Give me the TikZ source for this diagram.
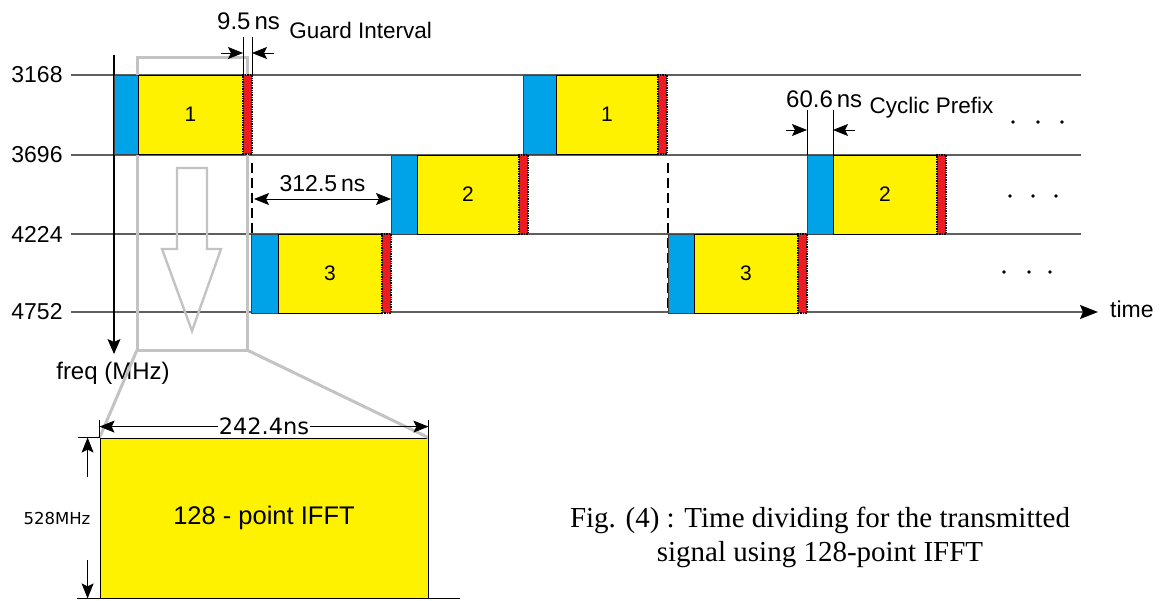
\documentclass[tikz,border=0pt]{standalone}
\usepackage{fontspec}
\setmainfont{Liberation Serif}
\setsansfont{Liberation Sans}
\newfontfamily\dejavu{DejaVu Sans}
\usetikzlibrary{arrows.meta,positioning}
\definecolor{cpblue}{RGB}{0,162,232}
\definecolor{symyellow}{RGB}{255,242,0}
\definecolor{gired}{RGB}{237,28,36}
\definecolor{gridgray}{RGB}{95,95,95}
\definecolor{framegray}{RGB}{195,195,195}
\begin{document}
\begin{tikzpicture}[x=1pt,y=-1pt,
    cpbox/.style={draw=black!75, line width=0.7pt, fill=cpblue, minimum width=#1,
      minimum height=79pt, inner sep=0pt, outer sep=0pt, anchor=north west},
    databox/.style={draw=black, line width=0.7pt, fill=symyellow, minimum width=#1,
      minimum height=79pt, inner sep=0pt, outer sep=0pt, anchor=north west,
      font=\sffamily\fontsize{21}{21}\selectfont},
    guardbox/.style={draw=black, densely dotted, line width=1.4pt, fill=gired,
      minimum width=9pt, minimum height=79pt, inner sep=0pt, outer sep=0pt,
      anchor=north west},
    gridline/.style={draw=gridgray, line width=1.1pt},
    dimarr/.style={line width=0.8pt, -{Stealth[length=15pt,width=12pt,inset=3pt]}},
    biarr/.style={line width=0.8pt, {Stealth[length=15pt,width=12pt,inset=3pt]}-{Stealth[length=15pt,width=12pt,inset=3pt]}},
    lbl/.style={font=\sffamily\fontsize{23}{23}\selectfont, inner sep=0pt},
    bigval/.style={font=\sffamily\fontsize{24}{24}\selectfont, inner sep=0pt},
    note/.style={font=\sffamily\fontsize{22.5}{22.5}\selectfont, inner sep=0pt},
    zoomline/.style={draw=framegray, line width=3pt}]
    \useasboundingbox (0,0) rectangle (1161,601);

    % Frequency bands
    \node[lbl] (f1) at (37,75) {3168};
    \node[lbl] (f2) at (37,155) {3696};
    \node[lbl] (f3) at (37,234) {4224};
    \node[lbl] (f4) at (37,312) {4752};
    \draw[gridline] (71,75) -- (1081,75);
    \draw[gridline] (71,155) -- (1081,155);
    \draw[gridline] (71,234) -- (1081,234);

    % Axes
    \node[lbl, anchor=west] (timelbl) at (1110,309) {time};
    \node[bigval] (freqlbl) at (113,373) {freq (MHz)};
    \draw[gridline, -{Stealth[length=18pt,width=14pt,inset=3pt,color=black]}] (71,312) -- (1098,312);
    \draw[line width=1.1pt, -{Stealth[length=15pt,width=13pt,inset=3pt]}] (114,55) -- (114,354);

    % Zoomed part of the first symbol
    \draw[zoomline] (137,58) rectangle (247,350);
    \draw[draw=framegray, line width=2.4pt] (177,168) -- (207,168) -- (207,249) -- (221,249)
      -- (192,331) -- (162,249) -- (177,249) -- cycle;

    % Dashed time marks
    \draw[line width=2.2pt, dash pattern=on 10pt off 5pt] (252,163) -- (252,312);
    \draw[line width=2.2pt, dash pattern=on 10pt off 5pt] (668,163) -- (668,312);

    % Band 1
    \node[cpbox=24pt] (c1a) at (114,75) {};
    \node[databox=105pt] (d1a) at (138,75) {1};
    \node[guardbox] (g1a) at (243,75) {};
    \node[cpbox=33pt] (c1b) at (523,75) {};
    \node[databox=102pt] (d1b) at (556,75) {1};
    \node[guardbox] (g1b) at (658,75) {};

    % Band 2
    \node[cpbox=26pt] (c2a) at (391,155) {};
    \node[databox=102pt] (d2a) at (417,155) {2};
    \node[guardbox] (g2a) at (519,155) {};
    \node[cpbox=26pt] (c2b) at (807,155) {};
    \node[databox=104pt] (d2b) at (833,155) {2};
    \node[guardbox] (g2b) at (937,155) {};

    % Band 3
    \node[cpbox=27pt] (c3a) at (251,234) {};
    \node[databox=104pt] (d3a) at (278,234) {3};
    \node[guardbox] (g3a) at (382,234) {};
    \node[cpbox=26pt] (c3b) at (668,234) {};
    \node[databox=104pt] (d3b) at (694,234) {3};
    \node[guardbox] (g3b) at (798,234) {};

    % Guard interval
    \draw[line width=0.8pt] (g1a.north west) -- ++(0,-38);
    \draw[line width=0.8pt] (g1a.north east) -- ++(0,-38);
    \draw[dimarr] ([xshift=-22pt,yshift=22pt]g1a.north west) -- ([yshift=22pt]g1a.north west);
    \draw[dimarr] ([xshift=22pt,yshift=22pt]g1a.north east) -- ([yshift=22pt]g1a.north east);
    \node[bigval, anchor=base west] (gival) at (217,30) {9.5\,ns};
    \node[note, anchor=base west, right=9pt of gival.base east] (gilbl) {Guard Interval};

    % Symbol period
    \draw[biarr] (254,199) -- ([yshift=-44pt]c2a.north west)
      node[midway, above=7pt, lbl] {312.5\,ns};

    % Cyclic prefix
    \draw[line width=0.8pt] (c2b.north west) -- ++(0,-45);
    \draw[line width=0.8pt] (c2b.north east) -- ++(0,-45);
    \draw[dimarr] ([xshift=-21pt,yshift=25pt]c2b.north west) -- ([yshift=25pt]c2b.north west);
    \draw[dimarr] ([xshift=22pt,yshift=25pt]c2b.north east) -- ([yshift=25pt]c2b.north east);
    \node[bigval, anchor=base west] (cpval) at (786,108) {60.6\,ns};
    \node[note, anchor=base west, right=7pt of cpval.base east] (cplbl) {Cyclic Prefix};

    % More symbols follow
    \fill (1013,122) circle (1.9);
    \fill (1038,122) circle (1.9);
    \fill (1062,122) circle (1.9);
    \fill (1010,196) circle (1.9);
    \fill (1033,196) circle (1.9);
    \fill (1056,196) circle (1.9);
    \fill (1004,272) circle (1.9);
    \fill (1029,272) circle (1.9);
    \fill (1050,272) circle (1.9);

    % One OFDM symbol
    \node[draw=black, line width=0.8pt, fill=symyellow, minimum width=328pt,
      minimum height=160pt, inner sep=0pt, font=\sffamily\fontsize{25.5}{25.5}\selectfont]
      (ifft) at (264,518) {128 - point IFFT};
    \draw[zoomline] (137,350) -- (ifft.north west);
    \draw[zoomline] (247,350) -- (ifft.north east);
    \draw[line width=1pt] (77,598) -- (460,598);
    \draw[line width=0.8pt] (ifft.north west) -- ++(0,-18);
    \draw[line width=0.8pt] (ifft.north east) -- ++(0,-18);
    \draw[biarr] ([yshift=11pt]ifft.north west) -- ([yshift=11pt]ifft.north east)
      node[midway, fill=white, inner sep=1pt, font=\dejavu\fontsize{22.5}{22.5}\selectfont] {242.4ns};
    \draw[line width=0.8pt] ([xshift=-22pt]ifft.north west) -- (ifft.north west);
    \draw[dimarr] ([xshift=-12pt,yshift=-39pt]ifft.north west) -- ([xshift=-12pt]ifft.north west);
    \draw[dimarr] ([xshift=-12pt,yshift=38pt]ifft.south west) -- ([xshift=-12pt]ifft.south west);
    \node[font=\dejavu\fontsize{16.5}{16.5}\selectfont, inner sep=0pt] (bw) at (57,518) {528MHz};

    % Caption
    \node[align=center, font=\rmfamily\fontsize{29}{34}\selectfont] (caption) at (820,537)
      {Fig. (4) : Time dividing for the transmitted\\signal using 128-point IFFT};
\end{tikzpicture}
\end{document}
